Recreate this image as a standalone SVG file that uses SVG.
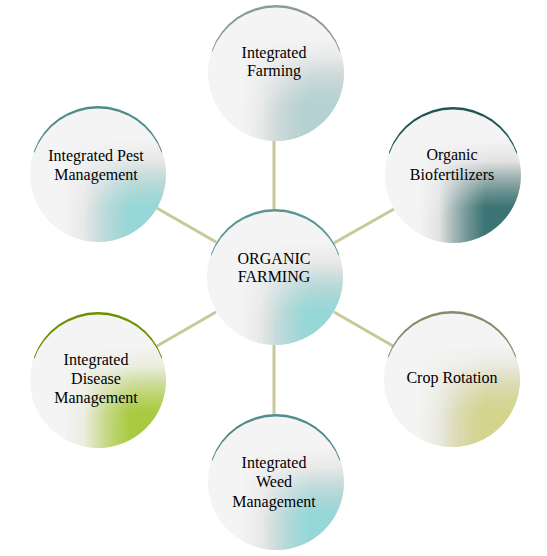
<svg xmlns="http://www.w3.org/2000/svg" width="547" height="556" viewBox="0 0 547 556">
<style>
  .lbl { font-family: "Liberation Serif", "Times New Roman", serif; font-size: 16px; fill: #000; text-anchor: middle; }
  .base { fill: #f4f4f4; }
  .conn { stroke: #c8c898; stroke-width: 3; fill: none; }
</style>
<defs>
  <linearGradient id="gxg" x1="0" y1="0" x2="1" y2="0"><stop offset="0.25" stop-color="#000"/><stop offset="0.8" stop-color="#fff"/></linearGradient>
  <linearGradient id="gyg" x1="0" y1="0" x2="0" y2="1"><stop offset="0.25" stop-color="#000"/><stop offset="0.8" stop-color="#fff"/></linearGradient>
  <linearGradient id="gxc" x1="0" y1="0" x2="1" y2="0"><stop offset="0.4" stop-color="#000"/><stop offset="0.74" stop-color="#fff"/></linearGradient>
  <linearGradient id="gyc" x1="0" y1="0" x2="0" y2="1"><stop offset="0.4" stop-color="#000"/><stop offset="0.74" stop-color="#fff"/></linearGradient>
  <mask id="mxg" maskContentUnits="objectBoundingBox"><rect width="1" height="1" fill="url(#gxg)"/></mask>
  <mask id="myg" maskContentUnits="objectBoundingBox"><rect width="1" height="1" fill="url(#gyg)"/></mask>
  <mask id="mxc" maskContentUnits="objectBoundingBox"><rect width="1" height="1" fill="url(#gxc)"/></mask>
  <mask id="myc" maskContentUnits="objectBoundingBox"><rect width="1" height="1" fill="url(#gyc)"/></mask>
  <clipPath id="c1"><circle cx="276" cy="73" r="68"/></clipPath>
  <clipPath id="c2"><circle cx="98" cy="174" r="68"/></clipPath>
  <clipPath id="c3"><circle cx="453" cy="175" r="68"/></clipPath>
  <clipPath id="c4"><circle cx="275" cy="277" r="68"/></clipPath>
  <clipPath id="c5"><circle cx="98" cy="380" r="68"/></clipPath>
  <clipPath id="c6"><circle cx="452" cy="379" r="68"/></clipPath>
  <clipPath id="c7"><circle cx="276" cy="482" r="68"/></clipPath>
</defs>
<rect width="547" height="556" fill="#fff"/>

<g id="connectors">
  <line class="conn" x1="274" y1="140" x2="274" y2="210"/>
  <line class="conn" x1="155" y1="207" x2="216" y2="242"/>
  <line class="conn" x1="394" y1="209" x2="334" y2="243"/>
  <line class="conn" x1="157" y1="346" x2="216" y2="312"/>
  <line class="conn" x1="334" y1="312" x2="393" y2="346"/>
  <line class="conn" x1="274" y1="344" x2="274" y2="415"/>
</g>

<g id="node-integrated-farming">
  <g clip-path="url(#c1)">
    <rect class="base" x="208" y="5" width="136" height="136"/>
    <g mask="url(#mxg)"><rect x="208" y="5" width="136" height="136" fill="#c4c8c8" mask="url(#myg)"/></g>
    <g mask="url(#mxc)"><rect x="208" y="5" width="136" height="136" fill="#b4d2d2" mask="url(#myc)"/></g>
  </g>
  <path d="M212.1 49.74 A68 68 0 0 1 339.9 49.74 L339.9 52.24 A68 68 0 0 0 212.1 52.24 Z" fill="#8c9c9c"/>
  <text class="lbl" x="274" y="58">Integrated</text>
  <text class="lbl" x="274" y="76">Farming</text>
</g>

<g id="node-pest">
  <g clip-path="url(#c2)">
    <rect class="base" x="30" y="106" width="136" height="136"/>
    <g mask="url(#mxg)"><rect x="30" y="106" width="136" height="136" fill="#c8c8c8" mask="url(#myg)"/></g>
    <g mask="url(#mxc)"><rect x="30" y="106" width="136" height="136" fill="#96d8d8" mask="url(#myc)"/></g>
  </g>
  <path d="M34.1 150.74 A68 68 0 0 1 161.9 150.74 L161.9 153.24 A68 68 0 0 0 34.1 153.24 Z" fill="#4f8c8c"/>
  <text class="lbl" x="96" y="161">Integrated Pest</text>
  <text class="lbl" x="96" y="180">Management</text>
</g>

<g id="node-biofertilizers">
  <g clip-path="url(#c3)">
    <rect class="base" x="385" y="107" width="136" height="136"/>
    <g mask="url(#mxg)"><rect x="385" y="107" width="136" height="136" fill="#b4b4b4" mask="url(#myg)"/></g>
    <g mask="url(#mxc)"><rect x="385" y="107" width="136" height="136" fill="#3a7474" mask="url(#myc)"/></g>
  </g>
  <path d="M389.1 151.74 A68 68 0 0 1 516.9 151.74 L516.9 154.24 A68 68 0 0 0 389.1 154.24 Z" fill="#1f5656"/>
  <text class="lbl" x="452" y="160">Organic</text>
  <text class="lbl" x="452" y="180">Biofertilizers</text>
</g>

<g id="node-organic-farming">
  <g clip-path="url(#c4)">
    <rect class="base" x="207" y="209" width="136" height="136"/>
    <g mask="url(#mxg)"><rect x="207" y="209" width="136" height="136" fill="#c8c8c8" mask="url(#myg)"/></g>
    <g mask="url(#mxc)"><rect x="207" y="209" width="136" height="136" fill="#96d8d8" mask="url(#myc)"/></g>
  </g>
  <path d="M211.1 253.74 A68 68 0 0 1 338.9 253.74 L338.9 256.24 A68 68 0 0 0 211.1 256.24 Z" fill="#5a9494"/>
  <text class="lbl" x="274" y="264">ORGANIC</text>
  <text class="lbl" x="274" y="282">FARMING</text>
</g>

<g id="node-disease">
  <g clip-path="url(#c5)">
    <rect class="base" x="30" y="312" width="136" height="136"/>
    <g mask="url(#mxg)"><rect x="30" y="312" width="136" height="136" fill="#d4dca8" mask="url(#myg)"/></g>
    <g mask="url(#mxc)"><rect x="30" y="312" width="136" height="136" fill="#a8ca40" mask="url(#myc)"/></g>
  </g>
  <path d="M34.1 356.74 A68 68 0 0 1 161.9 356.74 L161.9 359.24 A68 68 0 0 0 34.1 359.24 Z" fill="#6b9000"/>
  <text class="lbl" x="96" y="365">Integrated</text>
  <text class="lbl" x="96" y="384">Disease</text>
  <text class="lbl" x="96" y="403">Management</text>
</g>

<g id="node-crop-rotation">
  <g clip-path="url(#c6)">
    <rect class="base" x="384" y="311" width="136" height="136"/>
    <g mask="url(#mxg)"><rect x="384" y="311" width="136" height="136" fill="#d0d0b4" mask="url(#myg)"/></g>
    <g mask="url(#mxc)"><rect x="384" y="311" width="136" height="136" fill="#d4d48c" mask="url(#myc)"/></g>
  </g>
  <path d="M388.1 355.74 A68 68 0 0 1 515.9 355.74 L515.9 358.24 A68 68 0 0 0 388.1 358.24 Z" fill="#8a8a68"/>
  <text class="lbl" x="452" y="383">Crop Rotation</text>
</g>

<g id="node-weed">
  <g clip-path="url(#c7)">
    <rect class="base" x="208" y="414" width="136" height="136"/>
    <g mask="url(#mxg)"><rect x="208" y="414" width="136" height="136" fill="#c8c8c8" mask="url(#myg)"/></g>
    <g mask="url(#mxc)"><rect x="208" y="414" width="136" height="136" fill="#96d8d8" mask="url(#myc)"/></g>
  </g>
  <path d="M212.1 458.74 A68 68 0 0 1 339.9 458.74 L339.9 461.24 A68 68 0 0 0 212.1 461.24 Z" fill="#4f8c8c"/>
  <text class="lbl" x="274" y="468">Integrated</text>
  <text class="lbl" x="274" y="487">Weed</text>
  <text class="lbl" x="274" y="507">Management</text>
</g>
</svg>
